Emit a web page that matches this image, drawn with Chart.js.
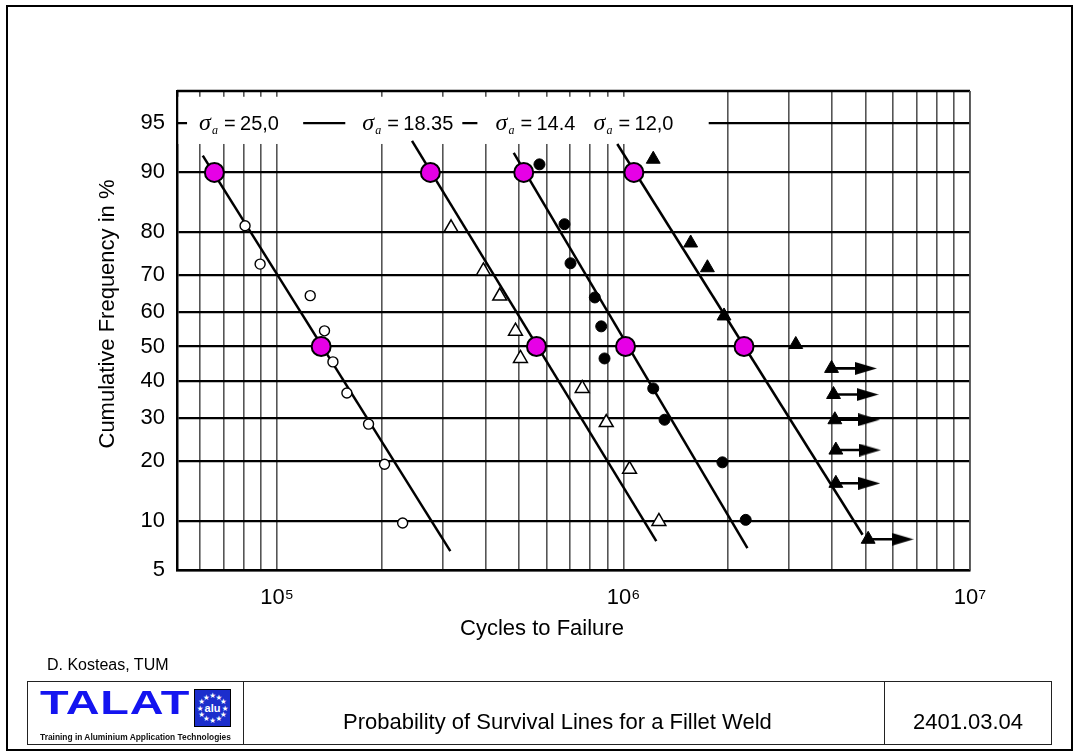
<!DOCTYPE html>
<html>
<head>
<meta charset="utf-8">
<title>Probability of Survival Lines for a Fillet Weld</title>
<script src="https://cdn.jsdelivr.net/npm/chart.js@4.4.1/dist/chart.umd.min.js"></script>
<style>
    html, body { margin: 0; padding: 0; background: #fff; }
    body { width: 1079px; height: 756px; position: relative; overflow: hidden; font-family: "Liberation Sans", Arial, sans-serif; color: #000; }
    #chart { position: absolute; left: 0; top: 0; }
    #frame { position: absolute; left: 6px; top: 5px; width: 1067px; height: 746px; border: 2.5px solid #000; box-sizing: border-box; pointer-events: none; }
    #author { position: absolute; left: 47px; top: 657px; font-size: 16px; line-height: 16px; white-space: nowrap; }
    #footer { position: absolute; left: 27px; top: 681px; width: 1025px; height: 64px; border: 1.5px solid #222; box-sizing: border-box; }
    .cell { position: absolute; top: 0; bottom: 0; box-sizing: border-box; }
    #logo { left: 0; width: 216px; border-right: 1.5px solid #222; }
    #title-cell { left: 216px; width: 641px; border-right: 1.5px solid #222; }
    #code-cell { left: 857px; right: 0; }
    .talat { position: absolute; left: 12px; top: 5px; font-size: 32.5px; line-height: 32.5px; font-weight: bold; color: #1414f0; transform: scaleX(1.44); transform-origin: left top; letter-spacing: 0.5px; }
    #flag { position: absolute; left: 166px; top: 7px; }
    .tag { position: absolute; left: 12px; top: 51px; font-size: 8.4px; line-height: 8.4px; font-weight: bold; color: #111; white-space: nowrap; }
    .ftext { position: absolute; top: 29px; font-size: 22px; line-height: 22px; white-space: nowrap; }
</style>
</head>
<body>
<canvas id="chart" width="1079" height="756"></canvas>
<div id="frame"></div>
<div id="author">D. Kosteas, TUM</div>
<div id="footer">
    <div class="cell" id="logo">
        <div class="talat">TALAT</div>
        <svg id="flag" width="37" height="38" viewBox="0 0 37 38"></svg>
        <div class="tag">Training in Aluminium Application Technologies</div>
    </div>
    <div class="cell" id="title-cell"><div class="ftext" style="left:99px">Probability of Survival Lines for a Fillet Weld</div></div>
    <div class="cell" id="code-cell"><div class="ftext" style="left:0;right:0;text-align:center">2401.03.04</div></div>
</div>
<script>
/**
 * Probability of survival lines for a fillet weld
 * Normal probability paper (y) against log cycles to failure (x).
 */

// Axes
const xMin = 51400;
const xMax = 1e7;
const xGridValues = [6e4, 7e4, 8e4, 9e4,
    1e5, 2e5, 3e5, 4e5, 5e5, 6e5, 7e5, 8e5, 9e5,
    1e6, 2e6, 3e6, 4e6, 5e6, 6e6, 7e6, 8e6, 9e6, 1e7];
const xTickLabelValues = [1e5, 1e6, 1e7];
const xTickLabels = ['10\u2075', '10\u2076', '10\u2077'];
const yTickLabels = [5, 10, 20, 30, 40, 50, 60, 70, 80, 90, 95];
const yTopPercent = 97;

// Stress amplitudes (labels on the 95 % line)
const sigmaValues = ['25,0', '18.35', '14.4', '12,0'];
const sigmaLabelX = [59500, 176100, 426600, 819000];

// sigma_a = 25,0 : open circles
const s25X = [80800, 89300, 124600, 137000, 144900, 159000, 183600, 204200, 230300];
const s25P = [81.3, 72.8, 64.6, 54.6, 45.5, 36.6, 28.4, 19.3, 9.7];

// sigma_a = 18.35 : open triangles
const s1835X = [317700, 393900, 439100, 487500, 503900, 759700, 891300, 1040600, 1264700];
const s1835P = [80.9, 71.1, 64.5, 54.5, 46.5, 37.9, 28.8, 18.3, 9.9];

// sigma_a = 14.4 : filled circles
const s144X = [571700, 675300, 702800, 826000, 862000, 881000, 1218000, 1313000, 1929000, 2252000];
const s144P = [91.0, 81.6, 73.0, 64.1, 55.9, 46.5, 37.9, 29.5, 19.7, 10.1];

// sigma_a = 12,0 : filled triangles, failures and run-outs
const s12X = [1218000, 1562000, 1746000, 1950000, 3141000];
const s12P = [91.6, 77.7, 71.9, 58.9, 50.6];
const s12RunoutX = [3984000, 4037000, 4073000, 4100000, 4100000, 5082000];
const s12RunoutP = [43.6, 36.2, 29.5, 22.3, 15.7, 7.8];
const s12RunoutArrowX = [5005000, 5062000, 5106000, 5140000, 5117000, 6390000];

// Fitted lines: 90 % and 50 % survival points, and line ends
const fitX90 = [65900, 276900, 515000, 1071000];
const fitX50 = [134000, 560500, 1013000, 2227000];
const lineStartX = [61000, 245100, 481900, 959000];
const lineStartP = [92.0, 93.5, 92.3, 93.2];
const lineEndX = [316200, 1243000, 2278000, 4897000];
const lineEndP = [6.6, 7.6, 6.9, 8.3];

// White strip carrying the stress labels
const labelBandEndX = 1761000;
const labelBandTopPercent = 96.7;
const labelBandBottomPercent = 93.2;
const labelGaps = [[54950, 118900], [157300, 342400], [378500, 1761000]];

/**
 * Inverse standard normal CDF (Acklam), percent in -> z out
 */
function probit(pct) {
    const p = pct / 100;
    const a = [-39.69683028665376, 220.9460984245205, -275.9285104469687, 138.3577518672690, -30.66479806614716, 2.506628277459239];
    const b = [-54.47609879822406, 161.5858368580409, -155.6989798598866, 66.80131188771972, -13.28068155288572];
    const c = [-0.007784894002430293, -0.3223964580411365, -2.400758277161838, -2.549732539343734, 4.374664141464968, 2.938163982698783];
    const d = [0.007784695709041462, 0.3224671290700398, 2.445134137142996, 3.754408661907416];
    const tail = q => (((((c[0] * q + c[1]) * q + c[2]) * q + c[3]) * q + c[4]) * q + c[5]) /
        ((((d[0] * q + d[1]) * q + d[2]) * q + d[3]) * q + 1);
    if (p < 0.02425) return tail(Math.sqrt(-2 * Math.log(p)));
    if (p > 1 - 0.02425) return -tail(Math.sqrt(-2 * Math.log(1 - p)));
    const q = p - 0.5, r = q * q;
    return (((((a[0] * r + a[1]) * r + a[2]) * r + a[3]) * r + a[4]) * r + a[5]) * q /
        (((((b[0] * r + b[1]) * r + b[2]) * r + b[3]) * r + b[4]) * r + 1);
}

const pts = (xs, ps) => xs.map((x, i) => ({ x, y: probit(ps[i]) }));

// Arrow head for run-outs
const arrowHead = document.createElement('canvas');
arrowHead.width = 22;
arrowHead.height = 13;
(() => {
    const c = arrowHead.getContext('2d');
    c.fillStyle = '#000';
    c.beginPath();
    c.moveTo(0, 0);
    c.lineTo(22, 6.5);
    c.lineTo(0, 13);
    c.closePath();
    c.fill();
})();

const markerBase = { showLine: false, pointBorderColor: '#000' };

const datasets = [
    {
        ...markerBase,
        label: '90 % / 50 %',
        data: pts([...fitX90, ...fitX50], [...fitX90.map(() => 90), ...fitX50.map(() => 50)]),
        pointRadius: 9.5,
        pointBackgroundColor: '#e600e6',
        pointBorderWidth: 2,
    },
    {
        ...markerBase,
        label: 'σa = 25,0',
        data: pts(s25X, s25P),
        pointRadius: 5,
        pointBackgroundColor: '#fff',
        pointBorderWidth: 1.4,
    },
    {
        ...markerBase,
        label: 'σa = 18.35',
        data: pts(s1835X, s1835P),
        pointStyle: 'triangle',
        pointRadius: 8,
        pointBackgroundColor: '#fff',
        pointBorderWidth: 1.5,
    },
    {
        ...markerBase,
        label: 'σa = 14.4',
        data: pts(s144X, s144P),
        pointRadius: 5.5,
        pointBackgroundColor: '#000',
        pointBorderWidth: 1,
    },
    {
        ...markerBase,
        label: 'σa = 12,0',
        data: pts([...s12X, ...s12RunoutX], [...s12P, ...s12RunoutP]),
        pointStyle: 'triangle',
        pointRadius: 8,
        pointBackgroundColor: '#000',
        pointBorderWidth: 1,
    },
    // run-out arrows
    ...s12RunoutX.map((x0, i) => ({
        label: 'run-out',
        showLine: true,
        data: [{ x: x0, y: probit(s12RunoutP[i]) }, { x: s12RunoutArrowX[i], y: probit(s12RunoutP[i]) }],
        borderColor: '#000',
        borderWidth: 2.6,
        pointStyle: ctx => ctx.dataIndex === 1 ? arrowHead : 'circle',
        pointRadius: ctx => ctx.dataIndex === 1 ? 6 : 0,
    })),
    // fitted survival lines
    ...lineStartX.map((x0, i) => ({
        label: 'fit ' + sigmaValues[i],
        showLine: true,
        data: [{ x: x0, y: probit(lineStartP[i]) }, { x: lineEndX[i], y: probit(lineEndP[i]) }],
        borderColor: '#000',
        borderWidth: 2.5,
        pointRadius: 0,
    })),
];

/**
 * Label strip on the 95 % line, plot frame and axis titles
 */
const probabilityPaper = {
    id: 'probabilityPaper',
    beforeDatasetsDraw(chart) {
        const { ctx, chartArea: a, scales: { x, y } } = chart;
        const y95 = y.getPixelForValue(probit(95));
        const bandRight = x.getPixelForValue(labelBandEndX);
        const bandTop = y.getPixelForValue(probit(labelBandTopPercent));
        const bandBottom = y.getPixelForValue(probit(labelBandBottomPercent));

        ctx.save();
        ctx.fillStyle = '#fff';
        ctx.fillRect(a.left + 1.5, bandTop, bandRight - a.left - 1.5, bandBottom - bandTop);

        // 95 % line, broken where the labels sit
        ctx.strokeStyle = '#000';
        ctx.lineWidth = 2.2;
        ctx.beginPath();
        let cx = a.left;
        labelGaps.forEach(([g0, g1]) => {
            ctx.moveTo(cx, y95);
            ctx.lineTo(x.getPixelForValue(g0), y95);
            cx = x.getPixelForValue(g1);
        });
        ctx.stroke();

        // sigma_a = ... labels
        ctx.fillStyle = '#000';
        ctx.textAlign = 'left';
        ctx.textBaseline = 'alphabetic';
        const base = y95 + 7;
        sigmaValues.forEach((v, i) => {
            const lx = x.getPixelForValue(sigmaLabelX[i]);
            ctx.font = 'italic 24px "Liberation Serif", "Times New Roman", serif';
            ctx.fillText('σ', lx, base);
            ctx.font = 'italic 12px "Liberation Serif", "Times New Roman", serif';
            ctx.fillText('a', lx + 13, base + 4);
            ctx.font = '20px "Liberation Sans", Arial, sans-serif';
            ctx.fillText('=', lx + 25, base);
            ctx.fillText(v, lx + 41, base);
        });

        // top and right edge of the plot
        ctx.lineWidth = 2.5;
        ctx.beginPath();
        ctx.moveTo(a.left, a.top);
        ctx.lineTo(a.right, a.top);
        ctx.stroke();
        ctx.strokeStyle = '#555';
        ctx.lineWidth = 1.6;
        ctx.beginPath();
        ctx.moveTo(a.right, a.top);
        ctx.lineTo(a.right, a.bottom);
        ctx.stroke();
        ctx.restore();
    },
    afterDraw(chart) {
        const { ctx } = chart;
        ctx.save();
        ctx.fillStyle = '#000';
        ctx.font = '22px "Liberation Sans", Arial, sans-serif';
        ctx.textAlign = 'center';
        ctx.textBaseline = 'middle';
        ctx.fillText('Cycles to Failure', 542, 629);
        ctx.translate(108, 314);
        ctx.rotate(-Math.PI / 2);
        ctx.fillText('Cumulative Frequency in %', 0, 0);
        ctx.restore();
    }
};

Chart.defaults.font.family = '"Liberation Sans", Arial, sans-serif';
Chart.defaults.color = '#000';

new Chart(document.getElementById('chart'), {
    type: 'scatter',
    data: { datasets },
    options: {
        responsive: false,
        animation: false,
        devicePixelRatio: 1,
        layout: { padding: { left: 0, top: 91, right: 109, bottom: 106 } },
        plugins: { legend: { display: false }, tooltip: { enabled: false } },
        scales: {
            x: {
                type: 'logarithmic',
                min: xMin,
                max: xMax,
                afterBuildTicks: s => { s.ticks = xGridValues.map(v => ({ value: v })); },
                afterFit: s => { s.height = 80; },
                grid: { color: '#555', lineWidth: 1.6, drawTicks: false },
                border: { display: true, color: '#000', width: 2.5 },
                ticks: {
                    autoSkip: false,
                    maxRotation: 0,
                    padding: 15,
                    font: { size: 22 },
                    callback: v => {
                        const k = xTickLabelValues.indexOf(v);
                        return k >= 0 ? xTickLabels[k] : '';
                    }
                }
            },
            y: {
                type: 'linear',
                min: probit(yTickLabels[0]),
                max: probit(yTopPercent),
                afterBuildTicks: s => { s.ticks = yTickLabels.map(p => ({ value: probit(p) })); },
                afterFit: s => { s.width = 177; },
                grid: { color: '#000', lineWidth: 2.2, drawTicks: false },
                border: { display: true, color: '#000', width: 2.5 },
                ticks: {
                    autoSkip: false,
                    padding: 12,
                    font: { size: 22 },
                    callback: (v, i) => String(yTickLabels[i])
                }
            }
        }
    },
    plugins: [probabilityPaper]
});

// EU-style star square in the TALAT logo
(() => {
    const flag = document.getElementById('flag');
    let svg = '<rect x="0.5" y="0.5" width="36" height="37" fill="#1c2ecc" stroke="#000" stroke-width="1"/>';
    for (let k = 0; k < 12; k++) {
        const t = k * Math.PI / 6;
        const sx = 18.5 + 12.5 * Math.sin(t);
        const sy = 19 - 12.5 * Math.cos(t);
        svg += `<text x="${sx.toFixed(2)}" y="${(sy + 2.6).toFixed(2)}" font-size="7.5" fill="#fff" text-anchor="middle" font-family="DejaVu Sans">★</text>`;
    }
    svg += '<text x="18.5" y="23" font-size="11" font-weight="bold" fill="#fff" text-anchor="middle" font-family="Liberation Sans, Arial">alu</text>';
    flag.innerHTML = svg;
})();
</script>
</body>
</html>
